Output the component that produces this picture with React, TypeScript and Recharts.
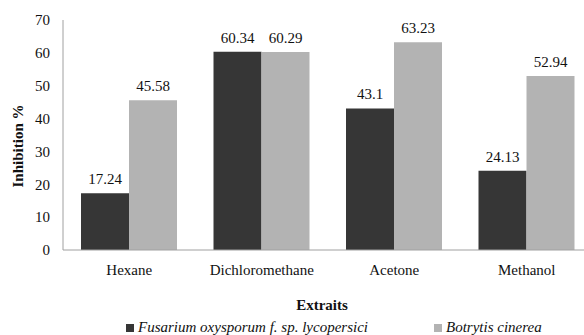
import { Bar, BarChart, LabelList, XAxis, YAxis } from "recharts";

const categories = ["Hexane", "Dichloromethane", "Acetone", "Methanol"];
const fusarium = [17.24, 60.34, 43.1, 24.13];
const botrytis = [45.58, 60.29, 63.23, 52.94];
const yTicks = [0, 10, 20, 30, 40, 50, 60, 70];

const data = categories.map((name, i) => ({ name, fusarium: fusarium[i], botrytis: botrytis[i] }));

const font = "Liberation Serif, serif";
const DARK = "#363636";
const LIGHT = "#b3b3b3";

function LegendItem({ color, label, left }: { color: string; label: string; left: number }) {
  return (
    <div style={{ position: "absolute", left, top: 319, display: "flex", alignItems: "center", whiteSpace: "nowrap" }}>
      <span style={{ width: 8, height: 8, background: color, display: "inline-block", marginRight: 4 }} />
      <span style={{ fontStyle: "italic", fontSize: 15, color: "#111", fontFamily: font }}>{label}</span>
    </div>
  );
}

export default function App() {
  return (
    <div style={{ position: "absolute", left: 0, top: 0, width: 584, height: 335, overflow: "hidden", background: "#fff", fontFamily: font }}>
      <BarChart
        width={600}
        height={315}
        data={data}
        margin={{ top: 20, right: 7, bottom: 0, left: 0 }}
        barGap={0}
        barCategoryGap={18}
      >
        <XAxis
          dataKey="name"
          height={65}
          tickLine={false}
          tickSize={0}
          tickMargin={14}
          stroke="#a0a0a0"
          tick={{ fill: "#111", fontSize: 15, fontFamily: font }}
          label={{ value: "Extraits", position: "insideBottom", offset: 5, dx: -6, fill: "#111", fontSize: 15, fontWeight: "bold", fontFamily: font }}
        />
        <YAxis
          width={63}
          domain={[0, 70]}
          ticks={yTicks}
          tickLine={false}
          tickSize={0}
          tickMargin={13}
          stroke="#a0a0a0"
          tick={{ fill: "#111", fontSize: 15, fontFamily: font }}
          label={{ value: "Inhibition %", angle: -90, position: "center", dx: -14, dy: 11, fill: "#111", fontSize: 15, fontWeight: "bold", fontFamily: font }}
        />
        <Bar dataKey="fusarium" fill={DARK} isAnimationActive={false}>
          <LabelList dataKey="fusarium" position="top" offset={9} fill="#111" fontSize={15} fontFamily={font} />
        </Bar>
        <Bar dataKey="botrytis" fill={LIGHT} isAnimationActive={false}>
          <LabelList dataKey="botrytis" position="top" offset={9} fill="#111" fontSize={15} fontFamily={font} />
        </Bar>
      </BarChart>
      <LegendItem color={DARK} label="Fusarium oxysporum f. sp. lycopersici" left={126} />
      <LegendItem color={LIGHT} label="Botrytis cinerea" left={434} />
    </div>
  );
}
